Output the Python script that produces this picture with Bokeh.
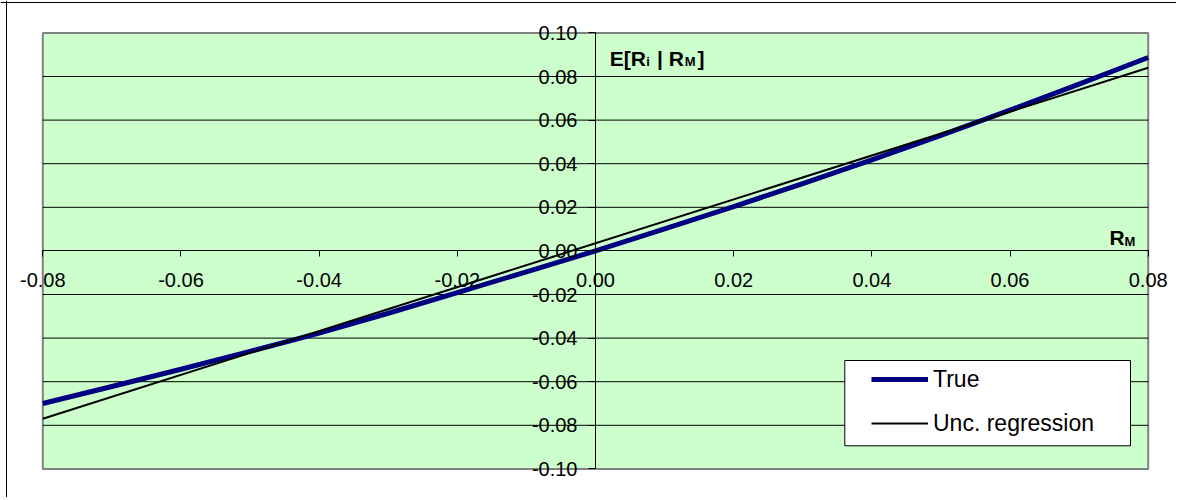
from bokeh.plotting import figure
from bokeh.models import (Range1d, FixedTicker, NumeralTickFormatter, Label,
                          Legend, LegendItem, BoxAnnotation, Span)
from bokeh.embed import file_html
from bokeh.resources import INLINE

# ---- data ----
rm = [-0.08, -0.07, -0.06, -0.05, -0.04, -0.03, -0.02, -0.01, 0.00,
      0.01, 0.02, 0.03, 0.04, 0.05, 0.06, 0.07, 0.08]
true_vals = [-0.0700, -0.0622, -0.0543, -0.0461, -0.0377, -0.0286, -0.0191,
             -0.0096, 0.0000, 0.0101, 0.0203, 0.0309, 0.0418, 0.0530,
             0.0646, 0.0765, 0.0887]
unc_rm = [-0.08, 0.08]
unc_vals = [-0.0770, 0.0840]

x_ticks = [-0.08, -0.06, -0.04, -0.02, 0.00, 0.02, 0.04, 0.06, 0.08]
y_ticks = [-0.10, -0.08, -0.06, -0.04, -0.02, 0.00, 0.02, 0.04, 0.06, 0.08, 0.10]
grid_ticks = [-0.08, -0.06, -0.04, -0.02, 0.02, 0.04, 0.06, 0.08]
x_lim = (-0.08, 0.08)
y_lim = (-0.10, 0.10)

series_names = ["True", "Unc. regression"]

FONT = "Liberation Sans"

# ---- layout geometry (page pixels) ----
W, H = 1176, 497
C_LEFT, C_TOP = 0, 0
F_LEFT, F_RIGHT, F_TOP, F_BOTTOM = 42.3, 1147.7, 32.4, 468.4

x_per_px = (x_lim[1] - x_lim[0]) / (F_RIGHT - F_LEFT)
y_per_px = (y_lim[1] - y_lim[0]) / (F_BOTTOM - F_TOP)
x_lo = x_lim[0] - (F_LEFT - C_LEFT) * x_per_px
x_hi = x_lim[1] + (C_LEFT + W - F_RIGHT) * x_per_px
y_hi = y_lim[1] + (F_TOP - C_TOP) * y_per_px
y_lo = y_lim[0] - (C_TOP + H - F_BOTTOM) * y_per_px


def px2x(px):
    return x_lo + (px - C_LEFT) * x_per_px


def py2y(py):
    return y_hi - (py - C_TOP) * y_per_px


p = figure(width=W, height=H, output_backend="svg", toolbar_location=None,
           x_range=Range1d(x_lo, x_hi), y_range=Range1d(y_lo, y_hi),
           min_border=0)

p.background_fill_color = "white"
p.border_fill_color = "white"
p.outline_line_color = None

# plot area
area = BoxAnnotation(left=x_lim[0], right=x_lim[1], bottom=y_lim[0], top=y_lim[1],
                     fill_color="#CCFFCC", fill_alpha=1.0, line_color="#808080",
                     line_alpha=1.0, line_width=2, level="image")
p.add_layout(area)

# outer chart border (top / left)
p.add_layout(Span(location=px2x(6.0), dimension="height", line_color="black",
                  line_width=1))
p.add_layout(Span(location=py2y(2.0), dimension="width", line_color="black",
                  line_width=1))

# horizontal gridlines
p.grid.visible = False
p.segment(x0=[x_lim[0]] * len(grid_ticks), x1=[x_lim[1]] * len(grid_ticks),
          y0=grid_ticks, y1=grid_ticks, line_color="black", line_width=1,
          level="underlay")

# axes crossing at origin
for ax in (p.xaxis[0], p.yaxis[0]):
    ax.fixed_location = 0
    ax.axis_line_color = "black"
    ax.axis_line_width = 1
    ax.major_tick_line_color = "black"
    ax.minor_tick_line_color = None
    ax.major_tick_in = 0
    ax.major_label_text_font = FONT
    ax.major_label_text_font_size = "20px"
    ax.major_label_text_color = "black"
    ax.formatter = NumeralTickFormatter(format="0.00")

p.xaxis[0].bounds = x_lim
p.xaxis[0].ticker = FixedTicker(ticks=x_ticks)
p.xaxis[0].major_tick_out = 6
p.xaxis[0].major_label_standoff = 16
p.yaxis[0].bounds = y_lim
p.yaxis[0].ticker = FixedTicker(ticks=y_ticks)
p.yaxis[0].major_tick_out = 7
p.yaxis[0].major_label_standoff = 11

# series
r1 = p.line(rm, true_vals, line_color="#000080", line_width=5, line_join="round")
r2 = p.line(unc_rm, unc_vals, line_color="black", line_width=2)

# legend box
box = BoxAnnotation(left=px2x(844.3), right=px2x(1130), top=py2y(360),
                    bottom=py2y(445.3), fill_color="white", fill_alpha=1.0,
                    line_color="black", line_alpha=1.0, line_width=1)
p.add_layout(box)

legend = Legend(items=[LegendItem(label=series_names[0], renderers=[r1]),
                       LegendItem(label=series_names[1], renderers=[r2])],
                location=(871, H - 438), padding=0, margin=0, spacing=14,
                glyph_width=57, glyph_height=30, label_height=30,
                label_standoff=5, border_line_alpha=0, background_fill_alpha=0,
                label_text_font=FONT, label_text_font_size="23px",
                label_text_color="black")
p.add_layout(legend)


# axis titles (with subscripts)
def lab(px, py, text, size):
    return Label(x=px2x(px), y=py2y(py), text=text, text_font=FONT,
                 text_font_size=size, text_font_style="bold", text_color="black",
                 text_baseline="alphabetic", text_align="left")


p.add_layout(lab(609.3, 57.7, "E[R", "21px"))
p.add_layout(lab(645.8, 60.5, "i", "13px"))
p.add_layout(lab(656.6, 57.7, "| R", "21px"))
p.add_layout(lab(684.3, 60.5, "M", "13px"))
p.add_layout(lab(697.0, 57.7, "]", "21px"))

p.add_layout(lab(1109.0, 237.3, "R", "21px"))
p.add_layout(lab(1124.0, 240.5, "M", "13px"))

open("out.html", "w").write(file_html(p, INLINE))
